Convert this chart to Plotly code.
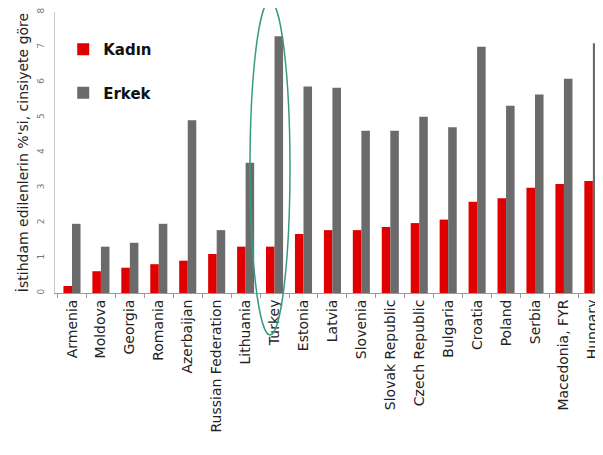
import plotly.graph_objects as go

countries = ["Armenia", "Moldova", "Georgia", "Romania", "Azerbaijan",
             "Russian Federation", "Lithuania", "Turkey", "Estonia", "Latvia",
             "Slovenia", "Slovak Republic", "Czech Republic", "Bulgaria",
             "Croatia", "Poland", "Serbia", "Macedonia, FYR", "Hungary"]
kadin = [0.2, 0.62, 0.72, 0.82, 0.92, 1.11, 1.32, 1.32, 1.68, 1.79,
         1.79, 1.88, 1.99, 2.09, 2.6, 2.7, 3.0, 3.1, 3.19]
erkek = [1.97, 1.32, 1.43, 1.97, 4.92, 1.79, 3.71, 7.31, 5.88, 5.84,
         4.62, 4.62, 5.02, 4.72, 7.01, 5.33, 5.65, 6.1, 7.11]
y_ticks = [0, 1, 2, 3, 4, 5, 6, 7, 8]

FONT = "DejaVu Sans"

fig = go.Figure()
fig.add_trace(go.Bar(x=countries, y=kadin, name="<b>Kadın</b>",
                     marker=dict(color="#e00000", line=dict(width=0)),
                     legendgroup="k"))
fig.add_trace(go.Bar(x=countries, y=erkek, name="<b>Erkek</b>",
                     marker=dict(color="#6b6b6b", line=dict(width=0)),
                     legendgroup="e"))

# the page body has an 8px default margin, so the figure is 8px smaller
fig.update_layout(
    width=595, height=447,
    margin=dict(l=47, r=0, t=4, b=162, autoexpand=False),
    paper_bgcolor="white", plot_bgcolor="white",
    barmode="group", bargap=0.41, bargroupgap=0,
    font=dict(family=FONT, color="#222222"),
    showlegend=True,
    legend=dict(x=0.015, y=0.925, xanchor="left", yanchor="top",
                traceorder="grouped", tracegroupgap=21,
                font=dict(family=FONT, size=15, color="#111111"),
                bgcolor="rgba(0,0,0,0)", itemwidth=30),
    xaxis=dict(range=[-0.587, 18.35], showline=True, linecolor="#9a9a9a",
               linewidth=1, ticks="outside", tickson="boundaries",
               ticklen=4, tickcolor="#9a9a9a", tickangle=-90,
               automargin=False,
               tickfont=dict(family=FONT, size=14, color="#222222"),
               showgrid=False),
    yaxis=dict(range=[0, 8], tickvals=y_ticks, showline=True,
               linecolor="#c8c8c8", linewidth=1, ticks="", showgrid=False,
               zeroline=False, tickangle=-90, automargin=False,
               ticklabelstandoff=6, ticklabeloverflow="allow",
               tickfont=dict(family=FONT, size=9, color="#777777"),
               title=dict(text="İstihdam edilenlerin %'si, cinsiyete göre",
                          font=dict(family=FONT, size=14, color="#222222"),
                          standoff=4)),
)

# green ellipse highlighting Turkey (paper coordinates)
fig.add_shape(type="circle", xref="paper", yref="paper",
              x0=(250 - 55) / 548, x1=(290 - 55) / 548,
              y0=(293 - 335) / 281, y1=(293 - 1) / 281,
              line=dict(color="#3a9a80", width=1.5), layer="above")

fig.write_html("out.html")
